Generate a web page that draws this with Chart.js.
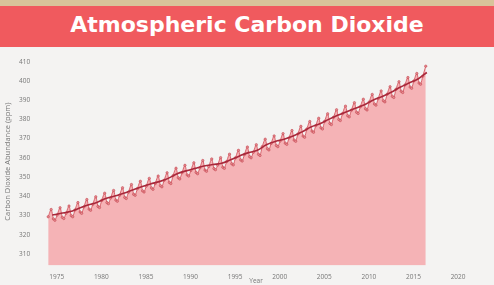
<!DOCTYPE html>
<html>
<head>
<meta charset="utf-8">
<script src="https://cdn.jsdelivr.net/npm/chart.js@4"></script>
<style>
  html, body { margin: 0; padding: 0; }
  body { width: 494px; height: 285px; background: #f4f3f2; overflow: hidden; font-family: "Open Sans", sans-serif; }
  .strip { height: 6px; background: #d8c39a; }
  .banner { height: 41px; background: #f05a5e; color: #fff; text-align: center; font-family: "DejaVu Sans", sans-serif; font-weight: 700; font-size: 22px; line-height: 37px; }
  .wrap { position: relative; width: 494px; height: 238px; }
</style>
</head>
<body>
<div class="strip"></div>
<div class="banner">Atmospheric Carbon Dioxide</div>
<div class="wrap"><canvas id="co2_chart"></canvas></div>
<script>
// sample months within each year (Jan, May, Aug, Oct)
const sampleMonths = [1, 5, 8, 10];

const years = [
    1974, 1975, 1976, 1977, 1978, 1979, 1980, 1981, 1982, 1983,
    1984, 1985, 1986, 1987, 1988, 1989, 1990, 1991, 1992, 1993,
    1994, 1995, 1996, 1997, 1998, 1999, 2000, 2001, 2002, 2003,
    2004, 2005, 2006, 2007, 2008, 2009, 2010, 2011, 2012, 2013,
    2014, 2015, 2016
];

// ppm, one row per year, columns follow sampleMonths
const co2 = [
    [329.3, 333.1, 328.2, 327.5],
    [330.2, 334.0, 329.0, 328.4],
    [331.1, 334.9, 329.9, 329.3],
    [332.8, 336.7, 331.8, 331.1],
    [334.4, 338.3, 333.3, 332.7],
    [335.8, 339.7, 334.7, 334.1],
    [337.8, 341.6, 336.7, 336.1],
    [339.1, 343.0, 338.0, 337.4],
    [340.5, 344.4, 339.4, 338.8],
    [342.1, 346.1, 341.0, 340.5],
    [343.9, 347.8, 342.8, 342.2],
    [345.3, 349.3, 344.3, 343.6],
    [346.6, 350.5, 345.5, 344.9],
    [348.3, 352.2, 347.2, 346.6],
    [350.7, 354.6, 349.6, 349.0],
    [352.2, 356.1, 351.1, 350.5],
    [353.4, 357.4, 352.4, 351.7],
    [354.7, 358.6, 353.6, 353.0],
    [355.5, 359.4, 354.4, 353.8],
    [356.2, 360.1, 355.1, 354.5],
    [358.0, 361.9, 356.9, 356.3],
    [360.0, 363.9, 358.9, 358.3],
    [361.7, 365.6, 360.6, 360.0],
    [362.9, 366.8, 361.8, 361.2],
    [365.8, 369.7, 364.7, 364.1],
    [367.5, 371.4, 366.4, 365.8],
    [368.7, 372.6, 367.6, 367.0],
    [370.3, 374.2, 369.2, 368.6],
    [372.4, 376.4, 371.3, 370.7],
    [375.0, 378.9, 373.9, 373.3],
    [376.7, 380.6, 375.6, 375.0],
    [379.0, 382.9, 377.9, 377.3],
    [381.1, 385.0, 380.0, 379.4],
    [383.0, 386.9, 381.9, 381.3],
    [384.8, 388.7, 383.7, 383.1],
    [386.6, 390.5, 385.5, 384.9],
    [389.1, 393.0, 388.0, 387.4],
    [390.8, 394.8, 389.7, 389.1],
    [393.1, 397.0, 392.0, 391.4],
    [395.7, 399.6, 394.6, 394.0],
    [397.9, 401.8, 396.8, 396.2],
    [400.0, 403.9, 398.9, 398.3],
    [402.5, 407.7]
];

// annual means (ppm), drawn as the trend line
const annualMean = [
    330.2, 331.1, 332.0, 333.8, 335.4, 336.8, 338.8, 340.1, 341.5, 343.2,
    344.9, 346.4, 347.6, 349.3, 351.7, 353.2, 354.5, 355.7, 356.5, 357.2,
    359.0, 361.0, 362.7, 363.9, 366.8, 368.5, 369.7, 371.3, 373.5, 376.0,
    377.7, 380.0, 382.1, 384.0, 385.8, 387.6, 390.1, 391.9, 394.1, 396.7,
    398.9, 401.0, 404.4
];

const yTicks = [310, 320, 330, 340, 350, 360, 370, 380, 390, 400, 410];
const xTicks = [1975, 1980, 1985, 1990, 1995, 2000, 2005, 2010, 2015, 2020];

const monthly = [];
years.forEach((yr, i) => {
    co2[i].forEach((v, j) => {
        monthly.push({ x: yr + (sampleMonths[j] - 0.5) / 12, y: v });
    });
});
const trend = years.map((yr, i) => ({ x: yr + 0.5, y: annualMean[i] }));

const tickFont = { family: 'Open Sans', size: 6.5 };

new Chart(document.getElementById('co2_chart'), {
    type: 'line',
    data: {
        datasets: [{
            label: 'Trend',
            data: trend,
            borderColor: '#a8283a',
            borderWidth: 1.6,
            pointRadius: 0,
            tension: 0.4,
            fill: false
        }, {
            label: 'CO2',
            data: monthly,
            borderColor: '#cf4853',
            borderWidth: 0.8,
            backgroundColor: '#f5b3b6',
            pointRadius: 1.2,
            pointBackgroundColor: '#e48a90',
            pointBorderColor: '#c03c47',
            pointBorderWidth: 0.5,
            tension: 0.3,
            fill: 'start'
        }]
    },
    options: {
        responsive: true,
        maintainAspectRatio: false,
        animation: false,
        layout: { padding: { left: 3, right: 27, top: 2, bottom: 0 } },
        plugins: {
            legend: { display: false },
            tooltip: { enabled: false }
        },
        scales: {
            x: {
                type: 'linear',
                min: 1973.7,
                max: 2021,
                grid: { display: false },
                border: { display: false },
                afterBuildTicks: (axis) => { axis.ticks = xTicks.map(v => ({ value: v })); },
                ticks: {
                    color: '#777',
                    font: tickFont,
                    padding: 0,
                    maxRotation: 0,
                    callback: (v) => String(v)
                },
                title: {
                    display: true,
                    text: 'Year',
                    color: '#777',
                    font: { family: 'Open Sans', size: 6.5 },
                    padding: { top: -4, bottom: 0 }
                }
            },
            y: {
                min: 304,
                max: 412,
                grid: { display: false },
                border: { display: false },
                afterBuildTicks: (axis) => { axis.ticks = yTicks.map(v => ({ value: v })); },
                ticks: {
                    color: '#777',
                    font: tickFont,
                    padding: 7,
                    callback: (v) => String(v)
                },
                title: {
                    display: true,
                    text: 'Carbon Dioxide Abundance (ppm)',
                    color: '#777',
                    font: { family: 'Open Sans', size: 7.5 },
                    padding: { top: 0, bottom: 0 }
                }
            }
        }
    }
});
</script>
</body>
</html>
